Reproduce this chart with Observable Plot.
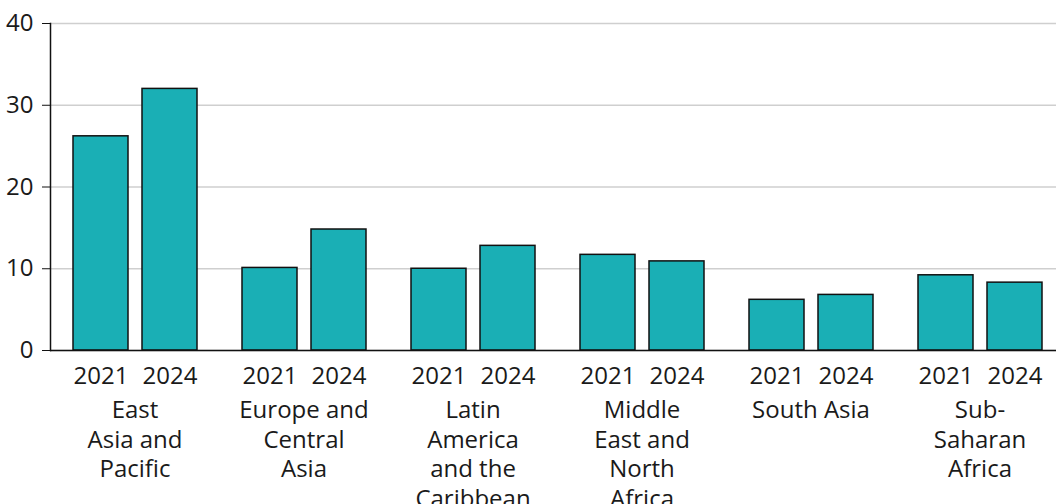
<!DOCTYPE html>
<html>
<head>
<meta charset="utf-8">
<script src="https://cdn.jsdelivr.net/npm/d3@7"></script>
<script src="https://cdn.jsdelivr.net/npm/@observablehq/plot@0.6"></script>
<style>
  html, body { margin: 0; padding: 0; background: #ffffff; }
  #chart svg { display: block; }
</style>
</head>
<body>
<div id="chart"></div>
<script>
const regions = [
  "East Asia and Pacific",
  "Europe and Central Asia",
  "Latin America and the Caribbean",
  "Middle East and North Africa",
  "South Asia",
  "Sub-Saharan Africa"
];
const regionLabels = [
  "East\nAsia and\nPacific",
  "Europe and\nCentral\nAsia",
  "Latin\nAmerica\nand the\nCaribbean",
  "Middle\nEast and\nNorth\nAfrica",
  "South Asia",
  "Sub-\nSaharan\nAfrica"
];
const years = ["2021", "2024"];
const values2021 = [26.2, 10.1, 10.0, 11.7, 6.2, 9.2];
const values2024 = [32.0, 14.8, 12.8, 10.9, 6.8, 8.3];
const yTicks = [0, 10, 20, 30, 40];

const data = regions.flatMap((r, i) => [
  {region: r, year: years[0], value: values2021[i]},
  {region: r, year: years[1], value: values2024[i]}
]);
const labelOf = new Map(regions.map((r, i) => [r, regionLabels[i]]));

const chart = Plot.plot({
  width: 1056,
  height: 504,
  marginLeft: 50,
  marginRight: -8,
  marginTop: 23,
  marginBottom: 154,
  style: {fontFamily: "'Open Sans', sans-serif", fontSize: "24px", color: "#1a1a1a", background: "#ffffff"},
  fx: {domain: regions, padding: 0, axis: null},
  x: {domain: years, paddingInner: 0.203, paddingOuter: 0.326},
  y: {domain: [0, 40]},
  marks: [
    Plot.gridY(yTicks, {stroke: "#cfcfcf", strokeOpacity: 1, strokeWidth: 1.5}),
    Plot.barY(data, {fx: "region", x: "year", y: "value", fill: "#1AAFB5", stroke: "#111111", strokeWidth: 1.5}),
    Plot.ruleY([0], {stroke: "#111111", strokeWidth: 1.5}),
    Plot.frame({anchor: "left", facetAnchor: "left", stroke: "#111111", strokeWidth: 1.5}),
    Plot.axisY(yTicks, {tickSize: 8, tickPadding: 9, fontSize: 24, label: null, stroke: "#111111"}),
    Plot.axisX({tickSize: 0, tickPadding: 16, fontSize: 24, label: null}),
    Plot.text(regions, {fx: d => d, text: d => labelOf.get(d), frameAnchor: "bottom", lineAnchor: "top", dy: 47, fontSize: 24, lineHeight: 1.23, fill: "#1a1a1a"})
  ]
});
document.getElementById("chart").appendChild(chart);
</script>
</body>
</html>
